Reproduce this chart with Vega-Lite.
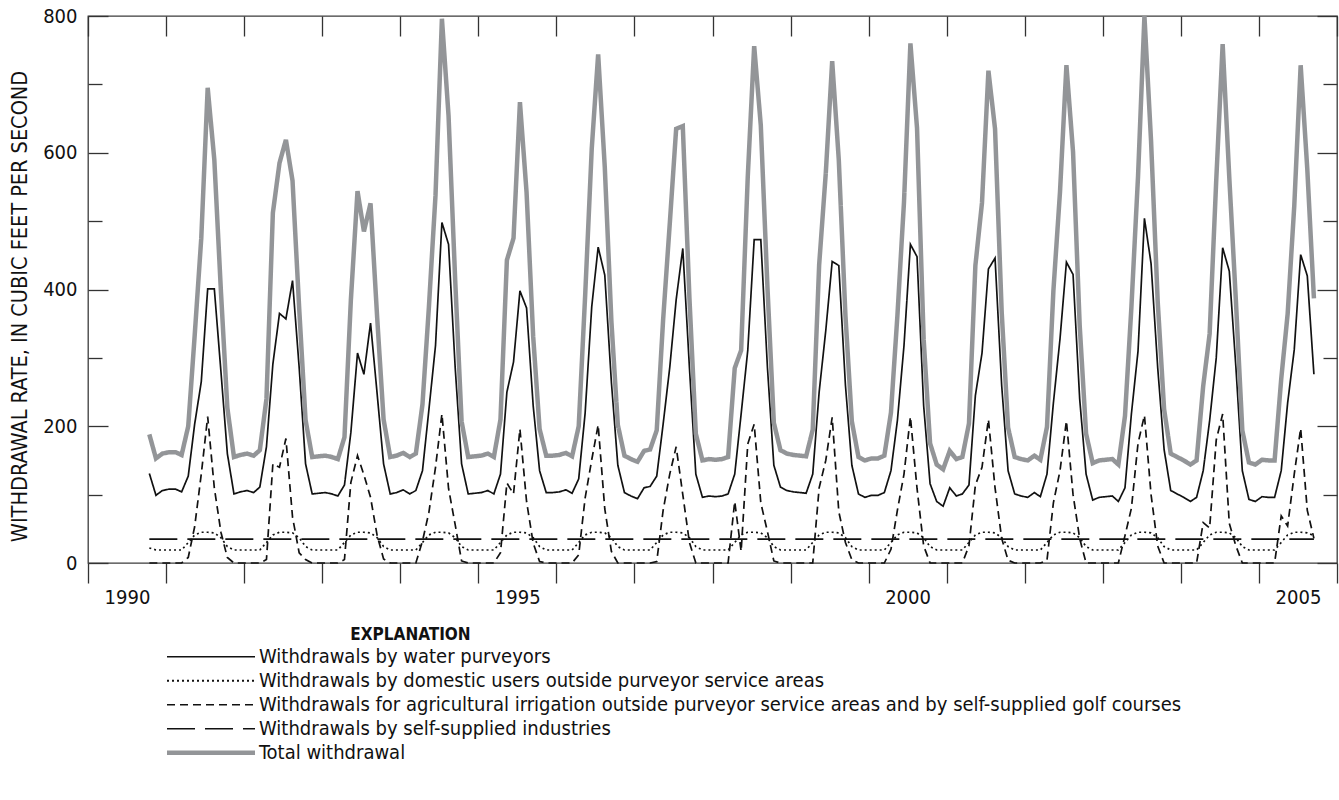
{
  "$schema": "https://vega.github.io/schema/vega-lite/v6.json",
  "width": 1249,
  "height": 547,
  "autosize": {"type": "none"},
  "padding": {"left": 88, "top": 16, "right": 2, "bottom": 237},
  "background": "white",
  "config": {
    "view": {"stroke": "#3c3c3c", "strokeWidth": 1.3},
    "font": "DejaVu Sans Condensed, DejaVu Sans, sans-serif",
    "axis": {"grid": false, "domain": false, "tickColor": "#333333", "tickWidth": 1.3, "labelColor": "#111111", "titleColor": "#111111"},
    "legend": {
      "orient": "none", "legendX": 79, "legendY": 629, "title": null,
      "symbolType": "stroke", "symbolSize": 7744, "clipHeight": 23.5, "rowPadding": 0,
      "labelFontSize": 20, "labelColor": "#111111", "labelOffset": 38, "symbolOffset": 34, "labelLimit": 1200, "padding": 0
    }
  },
  "data": {"values": [
{"date":"1990-10-15","purveyors":131,"domestic":22,"irrigation":0,"industries":35,"total":188},
{"date":"1990-11-15","purveyors":99,"domestic":19,"irrigation":0,"industries":35,"total":153},
{"date":"1990-12-15","purveyors":106,"domestic":19,"irrigation":0,"industries":35,"total":160},
{"date":"1991-01-15","purveyors":108,"domestic":19,"irrigation":0,"industries":35,"total":162},
{"date":"1991-02-15","purveyors":108,"domestic":19,"irrigation":0,"industries":35,"total":162},
{"date":"1991-03-15","purveyors":104,"domestic":19,"irrigation":0,"industries":35,"total":158},
{"date":"1991-04-15","purveyors":127,"domestic":30,"irrigation":8,"industries":35,"total":200},
{"date":"1991-05-15","purveyors":203,"domestic":41,"irrigation":53,"industries":35,"total":332},
{"date":"1991-06-15","purveyors":265,"domestic":45,"irrigation":130,"industries":35,"total":475},
{"date":"1991-07-15","purveyors":401,"domestic":45,"irrigation":214,"industries":35,"total":695},
{"date":"1991-08-15","purveyors":401,"domestic":44,"irrigation":110,"industries":35,"total":590},
{"date":"1991-09-15","purveyors":280,"domestic":37,"irrigation":45,"industries":35,"total":397},
{"date":"1991-10-15","purveyors":160,"domestic":24,"irrigation":8,"industries":35,"total":227},
{"date":"1991-11-15","purveyors":101,"domestic":19,"irrigation":0,"industries":35,"total":155},
{"date":"1991-12-15","purveyors":104,"domestic":19,"irrigation":0,"industries":35,"total":158},
{"date":"1992-01-15","purveyors":106,"domestic":19,"irrigation":0,"industries":35,"total":160},
{"date":"1992-02-15","purveyors":103,"domestic":19,"irrigation":0,"industries":35,"total":157},
{"date":"1992-03-15","purveyors":111,"domestic":19,"irrigation":0,"industries":35,"total":165},
{"date":"1992-04-15","purveyors":170,"domestic":30,"irrigation":5,"industries":35,"total":240},
{"date":"1992-05-15","purveyors":291,"domestic":41,"irrigation":145,"industries":35,"total":512},
{"date":"1992-06-15","purveyors":365,"domestic":45,"irrigation":140,"industries":35,"total":585},
{"date":"1992-07-15","purveyors":357,"domestic":45,"irrigation":182,"industries":35,"total":619},
{"date":"1992-08-15","purveyors":413,"domestic":44,"irrigation":67,"industries":35,"total":559},
{"date":"1992-09-15","purveyors":286,"domestic":37,"irrigation":15,"industries":35,"total":373},
{"date":"1992-10-15","purveyors":145,"domestic":24,"irrigation":5,"industries":35,"total":209},
{"date":"1992-11-15","purveyors":101,"domestic":19,"irrigation":0,"industries":35,"total":155},
{"date":"1992-12-15","purveyors":102,"domestic":19,"irrigation":0,"industries":35,"total":156},
{"date":"1993-01-15","purveyors":103,"domestic":19,"irrigation":0,"industries":35,"total":157},
{"date":"1993-02-15","purveyors":101,"domestic":19,"irrigation":0,"industries":35,"total":155},
{"date":"1993-03-15","purveyors":98,"domestic":19,"irrigation":0,"industries":35,"total":152},
{"date":"1993-04-15","purveyors":114,"domestic":30,"irrigation":5,"industries":35,"total":184},
{"date":"1993-05-15","purveyors":191,"domestic":41,"irrigation":118,"industries":35,"total":385},
{"date":"1993-06-15","purveyors":307,"domestic":45,"irrigation":157,"industries":35,"total":544},
{"date":"1993-07-15","purveyors":276,"domestic":45,"irrigation":129,"industries":35,"total":485},
{"date":"1993-08-15","purveyors":351,"domestic":44,"irrigation":96,"industries":35,"total":526},
{"date":"1993-09-15","purveyors":247,"domestic":37,"irrigation":40,"industries":35,"total":359},
{"date":"1993-10-15","purveyors":145,"domestic":24,"irrigation":6,"industries":35,"total":210},
{"date":"1993-11-15","purveyors":101,"domestic":19,"irrigation":0,"industries":35,"total":155},
{"date":"1993-12-15","purveyors":103,"domestic":19,"irrigation":0,"industries":35,"total":157},
{"date":"1994-01-15","purveyors":107,"domestic":19,"irrigation":0,"industries":35,"total":161},
{"date":"1994-02-15","purveyors":101,"domestic":19,"irrigation":0,"industries":35,"total":155},
{"date":"1994-03-15","purveyors":106,"domestic":19,"irrigation":0,"industries":35,"total":160},
{"date":"1994-04-15","purveyors":135,"domestic":30,"irrigation":32,"industries":35,"total":232},
{"date":"1994-05-15","purveyors":224,"domestic":41,"irrigation":74,"industries":35,"total":374},
{"date":"1994-06-15","purveyors":318,"domestic":45,"irrigation":140,"industries":35,"total":538},
{"date":"1994-07-15","purveyors":498,"domestic":45,"irrigation":218,"industries":35,"total":796},
{"date":"1994-08-15","purveyors":466,"domestic":44,"irrigation":109,"industries":35,"total":654},
{"date":"1994-09-15","purveyors":286,"domestic":37,"irrigation":56,"industries":35,"total":414},
{"date":"1994-10-15","purveyors":145,"domestic":24,"irrigation":3,"industries":35,"total":207},
{"date":"1994-11-15","purveyors":101,"domestic":19,"irrigation":0,"industries":35,"total":155},
{"date":"1994-12-15","purveyors":102,"domestic":19,"irrigation":0,"industries":35,"total":156},
{"date":"1995-01-15","purveyors":103,"domestic":19,"irrigation":0,"industries":35,"total":157},
{"date":"1995-02-15","purveyors":106,"domestic":19,"irrigation":0,"industries":35,"total":160},
{"date":"1995-03-15","purveyors":101,"domestic":19,"irrigation":0,"industries":35,"total":155},
{"date":"1995-04-15","purveyors":130,"domestic":30,"irrigation":15,"industries":35,"total":210},
{"date":"1995-05-15","purveyors":250,"domestic":41,"irrigation":117,"industries":35,"total":443},
{"date":"1995-06-15","purveyors":294,"domestic":45,"irrigation":101,"industries":35,"total":475},
{"date":"1995-07-15","purveyors":398,"domestic":45,"irrigation":196,"industries":35,"total":674},
{"date":"1995-08-15","purveyors":373,"domestic":44,"irrigation":90,"industries":35,"total":542},
{"date":"1995-09-15","purveyors":230,"domestic":37,"irrigation":29,"industries":35,"total":331},
{"date":"1995-10-15","purveyors":135,"domestic":24,"irrigation":2,"industries":35,"total":196},
{"date":"1995-11-15","purveyors":103,"domestic":19,"irrigation":0,"industries":35,"total":157},
{"date":"1995-12-15","purveyors":103,"domestic":19,"irrigation":0,"industries":35,"total":157},
{"date":"1996-01-15","purveyors":104,"domestic":19,"irrigation":0,"industries":35,"total":158},
{"date":"1996-02-15","purveyors":107,"domestic":19,"irrigation":0,"industries":35,"total":161},
{"date":"1996-03-15","purveyors":102,"domestic":19,"irrigation":0,"industries":35,"total":156},
{"date":"1996-04-15","purveyors":123,"domestic":30,"irrigation":12,"industries":35,"total":200},
{"date":"1996-05-15","purveyors":219,"domestic":41,"irrigation":95,"industries":35,"total":390},
{"date":"1996-06-15","purveyors":375,"domestic":45,"irrigation":151,"industries":35,"total":606},
{"date":"1996-07-15","purveyors":462,"domestic":45,"irrigation":202,"industries":35,"total":744},
{"date":"1996-08-15","purveyors":421,"domestic":44,"irrigation":79,"industries":35,"total":579},
{"date":"1996-09-15","purveyors":264,"domestic":37,"irrigation":17,"industries":35,"total":353},
{"date":"1996-10-15","purveyors":143,"domestic":24,"irrigation":0,"industries":35,"total":202},
{"date":"1996-11-15","purveyors":103,"domestic":19,"irrigation":0,"industries":35,"total":157},
{"date":"1996-12-15","purveyors":98,"domestic":19,"irrigation":0,"industries":35,"total":152},
{"date":"1997-01-15","purveyors":94,"domestic":19,"irrigation":0,"industries":35,"total":148},
{"date":"1997-02-15","purveyors":110,"domestic":19,"irrigation":0,"industries":35,"total":164},
{"date":"1997-03-15","purveyors":112,"domestic":19,"irrigation":0,"industries":35,"total":166},
{"date":"1997-04-15","purveyors":127,"domestic":30,"irrigation":2,"industries":35,"total":194},
{"date":"1997-05-15","purveyors":203,"domestic":41,"irrigation":77,"industries":35,"total":356},
{"date":"1997-06-15","purveyors":286,"domestic":45,"irrigation":130,"industries":35,"total":496},
{"date":"1997-07-15","purveyors":385,"domestic":45,"irrigation":170,"industries":35,"total":635},
{"date":"1997-08-15","purveyors":460,"domestic":44,"irrigation":100,"industries":35,"total":639},
{"date":"1997-09-15","purveyors":286,"domestic":37,"irrigation":30,"industries":35,"total":388},
{"date":"1997-10-15","purveyors":130,"domestic":24,"irrigation":0,"industries":35,"total":189},
{"date":"1997-11-15","purveyors":96,"domestic":19,"irrigation":0,"industries":35,"total":150},
{"date":"1997-12-15","purveyors":98,"domestic":19,"irrigation":0,"industries":35,"total":152},
{"date":"1998-01-15","purveyors":97,"domestic":19,"irrigation":0,"industries":35,"total":151},
{"date":"1998-02-15","purveyors":98,"domestic":19,"irrigation":0,"industries":35,"total":152},
{"date":"1998-03-15","purveyors":101,"domestic":19,"irrigation":0,"industries":35,"total":155},
{"date":"1998-04-15","purveyors":130,"domestic":30,"irrigation":90,"industries":35,"total":285},
{"date":"1998-05-15","purveyors":218,"domestic":41,"irrigation":17,"industries":35,"total":311},
{"date":"1998-06-15","purveyors":311,"domestic":45,"irrigation":174,"industries":35,"total":565},
{"date":"1998-07-15","purveyors":473,"domestic":45,"irrigation":203,"industries":35,"total":756},
{"date":"1998-08-15","purveyors":473,"domestic":44,"irrigation":88,"industries":35,"total":640},
{"date":"1998-09-15","purveyors":286,"domestic":37,"irrigation":46,"industries":35,"total":404},
{"date":"1998-10-15","purveyors":143,"domestic":24,"irrigation":3,"industries":35,"total":205},
{"date":"1998-11-15","purveyors":111,"domestic":19,"irrigation":0,"industries":35,"total":165},
{"date":"1998-12-15","purveyors":106,"domestic":19,"irrigation":0,"industries":35,"total":160},
{"date":"1999-01-15","purveyors":104,"domestic":19,"irrigation":0,"industries":35,"total":158},
{"date":"1999-02-15","purveyors":103,"domestic":19,"irrigation":0,"industries":35,"total":157},
{"date":"1999-03-15","purveyors":102,"domestic":19,"irrigation":0,"industries":35,"total":156},
{"date":"1999-04-15","purveyors":130,"domestic":30,"irrigation":0,"industries":35,"total":195},
{"date":"1999-05-15","purveyors":250,"domestic":41,"irrigation":110,"industries":35,"total":436},
{"date":"1999-06-15","purveyors":340,"domestic":45,"irrigation":150,"industries":35,"total":570},
{"date":"1999-07-15","purveyors":441,"domestic":45,"irrigation":213,"industries":35,"total":734},
{"date":"1999-08-15","purveyors":435,"domestic":44,"irrigation":75,"industries":35,"total":589},
{"date":"1999-09-15","purveyors":260,"domestic":37,"irrigation":30,"industries":35,"total":362},
{"date":"1999-10-15","purveyors":143,"domestic":24,"irrigation":5,"industries":35,"total":207},
{"date":"1999-11-15","purveyors":101,"domestic":19,"irrigation":0,"industries":35,"total":155},
{"date":"1999-12-15","purveyors":96,"domestic":19,"irrigation":0,"industries":35,"total":150},
{"date":"2000-01-15","purveyors":99,"domestic":19,"irrigation":0,"industries":35,"total":153},
{"date":"2000-02-15","purveyors":99,"domestic":19,"irrigation":0,"industries":35,"total":153},
{"date":"2000-03-15","purveyors":103,"domestic":19,"irrigation":0,"industries":35,"total":157},
{"date":"2000-04-15","purveyors":135,"domestic":30,"irrigation":20,"industries":35,"total":220},
{"date":"2000-05-15","purveyors":208,"domestic":41,"irrigation":77,"industries":35,"total":361},
{"date":"2000-06-15","purveyors":318,"domestic":45,"irrigation":130,"industries":35,"total":528},
{"date":"2000-07-15","purveyors":466,"domestic":45,"irrigation":214,"industries":35,"total":760},
{"date":"2000-08-15","purveyors":448,"domestic":44,"irrigation":109,"industries":35,"total":636},
{"date":"2000-09-15","purveyors":230,"domestic":37,"irrigation":25,"industries":35,"total":327},
{"date":"2000-10-15","purveyors":116,"domestic":24,"irrigation":0,"industries":35,"total":175},
{"date":"2000-11-15","purveyors":90,"domestic":19,"irrigation":0,"industries":35,"total":144},
{"date":"2000-12-15","purveyors":83,"domestic":19,"irrigation":0,"industries":35,"total":137},
{"date":"2001-01-15","purveyors":110,"domestic":19,"irrigation":0,"industries":35,"total":164},
{"date":"2001-02-15","purveyors":98,"domestic":19,"irrigation":0,"industries":35,"total":152},
{"date":"2001-03-15","purveyors":101,"domestic":19,"irrigation":0,"industries":35,"total":155},
{"date":"2001-04-15","purveyors":114,"domestic":30,"irrigation":25,"industries":35,"total":204},
{"date":"2001-05-15","purveyors":245,"domestic":41,"irrigation":114,"industries":35,"total":435},
{"date":"2001-06-15","purveyors":307,"domestic":45,"irrigation":140,"industries":35,"total":527},
{"date":"2001-07-15","purveyors":430,"domestic":45,"irrigation":210,"industries":35,"total":720},
{"date":"2001-08-15","purveyors":446,"domestic":44,"irrigation":110,"industries":35,"total":635},
{"date":"2001-09-15","purveyors":260,"domestic":37,"irrigation":36,"industries":35,"total":368},
{"date":"2001-10-15","purveyors":135,"domestic":24,"irrigation":4,"industries":35,"total":198},
{"date":"2001-11-15","purveyors":101,"domestic":19,"irrigation":0,"industries":35,"total":155},
{"date":"2001-12-15","purveyors":98,"domestic":19,"irrigation":0,"industries":35,"total":152},
{"date":"2002-01-15","purveyors":96,"domestic":19,"irrigation":0,"industries":35,"total":150},
{"date":"2002-02-15","purveyors":103,"domestic":19,"irrigation":0,"industries":35,"total":157},
{"date":"2002-03-15","purveyors":97,"domestic":19,"irrigation":0,"industries":35,"total":151},
{"date":"2002-04-15","purveyors":130,"domestic":30,"irrigation":4,"industries":35,"total":199},
{"date":"2002-05-15","purveyors":234,"domestic":41,"irrigation":88,"industries":35,"total":398},
{"date":"2002-06-15","purveyors":328,"domestic":45,"irrigation":135,"industries":35,"total":543},
{"date":"2002-07-15","purveyors":440,"domestic":45,"irrigation":208,"industries":35,"total":728},
{"date":"2002-08-15","purveyors":422,"domestic":44,"irrigation":100,"industries":35,"total":601},
{"date":"2002-09-15","purveyors":240,"domestic":37,"irrigation":36,"industries":35,"total":348},
{"date":"2002-10-15","purveyors":130,"domestic":24,"irrigation":0,"industries":35,"total":189},
{"date":"2002-11-15","purveyors":92,"domestic":19,"irrigation":0,"industries":35,"total":146},
{"date":"2002-12-15","purveyors":96,"domestic":19,"irrigation":0,"industries":35,"total":150},
{"date":"2003-01-15","purveyors":97,"domestic":19,"irrigation":0,"industries":35,"total":151},
{"date":"2003-02-15","purveyors":98,"domestic":19,"irrigation":0,"industries":35,"total":152},
{"date":"2003-03-15","purveyors":90,"domestic":19,"irrigation":0,"industries":35,"total":144},
{"date":"2003-04-15","purveyors":110,"domestic":30,"irrigation":40,"industries":35,"total":215},
{"date":"2003-05-15","purveyors":218,"domestic":41,"irrigation":80,"industries":35,"total":374},
{"date":"2003-06-15","purveyors":310,"domestic":45,"irrigation":175,"industries":35,"total":565},
{"date":"2003-07-15","purveyors":504,"domestic":45,"irrigation":216,"industries":35,"total":800},
{"date":"2003-08-15","purveyors":438,"domestic":44,"irrigation":100,"industries":35,"total":617},
{"date":"2003-09-15","purveyors":286,"domestic":37,"irrigation":25,"industries":35,"total":383},
{"date":"2003-10-15","purveyors":166,"domestic":24,"irrigation":0,"industries":35,"total":225},
{"date":"2003-11-15","purveyors":106,"domestic":19,"irrigation":0,"industries":35,"total":160},
{"date":"2003-12-15","purveyors":101,"domestic":19,"irrigation":0,"industries":35,"total":155},
{"date":"2004-01-15","purveyors":96,"domestic":19,"irrigation":0,"industries":35,"total":150},
{"date":"2004-02-15","purveyors":90,"domestic":19,"irrigation":0,"industries":35,"total":144},
{"date":"2004-03-15","purveyors":96,"domestic":19,"irrigation":0,"industries":35,"total":150},
{"date":"2004-04-15","purveyors":135,"domestic":30,"irrigation":59,"industries":35,"total":259},
{"date":"2004-05-15","purveyors":208,"domestic":41,"irrigation":51,"industries":35,"total":335},
{"date":"2004-06-15","purveyors":300,"domestic":45,"irrigation":180,"industries":35,"total":560},
{"date":"2004-07-15","purveyors":461,"domestic":45,"irrigation":218,"industries":35,"total":759},
{"date":"2004-08-15","purveyors":427,"domestic":44,"irrigation":58,"industries":35,"total":564},
{"date":"2004-09-15","purveyors":286,"domestic":37,"irrigation":25,"industries":35,"total":383},
{"date":"2004-10-15","purveyors":135,"domestic":24,"irrigation":0,"industries":35,"total":194},
{"date":"2004-11-15","purveyors":93,"domestic":19,"irrigation":0,"industries":35,"total":147},
{"date":"2004-12-15","purveyors":90,"domestic":19,"irrigation":0,"industries":35,"total":144},
{"date":"2005-01-15","purveyors":97,"domestic":19,"irrigation":0,"industries":35,"total":151},
{"date":"2005-02-15","purveyors":96,"domestic":19,"irrigation":0,"industries":35,"total":150},
{"date":"2005-03-15","purveyors":96,"domestic":19,"irrigation":0,"industries":35,"total":150},
{"date":"2005-04-15","purveyors":135,"domestic":30,"irrigation":69,"industries":35,"total":269},
{"date":"2005-05-15","purveyors":234,"domestic":41,"irrigation":54,"industries":35,"total":364},
{"date":"2005-06-15","purveyors":312,"domestic":45,"irrigation":130,"industries":35,"total":522},
{"date":"2005-07-15","purveyors":451,"domestic":45,"irrigation":197,"industries":35,"total":728},
{"date":"2005-08-15","purveyors":420,"domestic":44,"irrigation":77,"industries":35,"total":576},
{"date":"2005-09-15","purveyors":276,"domestic":40,"irrigation":36,"industries":35,"total":387}
  ]},
  "transform": [
    {"fold": ["purveyors", "domestic", "irrigation", "industries", "total"], "as": ["series", "value"]}
  ],
  "layer": [
    {
      "mark": {"type": "line", "strokeCap": "butt", "strokeJoin": "miter"},
      "encoding": {
        "x": {
          "field": "date", "type": "temporal",
          "scale": {"domain": [{"year": 1990, "month": 1, "date": 1}, {"year": 2006, "month": 1, "date": 1}]},
          "axis": {
            "orient": "bottom",
            "tickCount": {"interval": "year", "step": 1},
            "labelExpr": "year(datum.value) % 5 == 0 ? timeFormat(datum.value, '%Y') : ''",
            "labelOffset": 39, "labelFlush": false, "labelOverlap": false, "labelBound": false,
            "tickSize": 20, "labelPadding": 4, "labelFontSize": 20, "labelAngle": 0,
            "title": "EXPLANATION", "titleFontWeight": "bold", "titleFontSize": 17,
            "titleX": 322, "titleY": 71, "titleAlign": "center", "titleBaseline": "middle"
          }
        },
        "y": {
          "field": "value", "type": "quantitative",
          "scale": {"domain": [0, 800], "nice": false},
          "axis": {
            "orient": "left",
            "values": [0, 100, 200, 300, 400, 500, 600, 700, 800],
            "labelExpr": "datum.value % 200 == 0 ? datum.value : ''",
            "tickSize": {"condition": {"test": "datum.value % 200 == 0", "value": -20}, "value": -14},
            "labelPadding": 31, "labelFontSize": 20,
            "title": "WITHDRAWAL RATE, IN CUBIC FEET PER SECOND",
            "titleFontSize": 21.5, "titleFontWeight": "normal",
            "titleX": -68, "titleY": 290, "titleAngle": -90, "titleAlign": "center", "titleBaseline": "middle"
          }
        },
        "color": {
          "field": "series", "type": "nominal",
          "scale": {"domain": ["purveyors", "domestic", "irrigation", "industries", "total"], "range": ["#111111", "#111111", "#111111", "#111111", "#939598"]},
          "legend": {
            "symbolSize": 7744,
            "symbolStrokeWidth": {"expr": "datum.value == 'total' ? 4.5 : datum.value == 'domestic' ? 2.2 : 1.6"},
            "labelExpr": "datum.label == 'purveyors' ? 'Withdrawals by water purveyors' : datum.label == 'domestic' ? 'Withdrawals by domestic users outside purveyor service areas' : datum.label == 'irrigation' ? 'Withdrawals for agricultural irrigation outside purveyor service areas and by self-supplied golf courses' : datum.label == 'industries' ? 'Withdrawals by self-supplied industries' : 'Total withdrawal'"
          }
        },
        "strokeDash": {
          "field": "series", "type": "nominal",
          "scale": {"domain": ["purveyors", "domestic", "irrigation", "industries", "total"], "range": [[1, 0], [2, 3], [8, 5], [28, 10], [1, 0]]}
        },
        "size": {"condition": {"test": "datum.series == 'total'", "value": 4.5}, "value": 1.7}
      }
    },
    {
      "mark": {"type": "line", "opacity": 0},
      "encoding": {
        "x": {
          "field": "date", "type": "temporal",
          "scale": {"domain": [{"year": 1990, "month": 1, "date": 1}, {"year": 2006, "month": 1, "date": 1}]},
          "axis": {"orient": "top", "tickCount": {"interval": "year", "step": 1}, "labels": false, "tickSize": -20, "title": null}
        },
        "y": {
          "field": "value", "type": "quantitative",
          "scale": {"domain": [0, 800], "nice": false},
          "axis": {
            "orient": "right", "values": [0, 100, 200, 300, 400, 500, 600, 700, 800], "labels": false,
            "tickSize": {"condition": {"test": "datum.value % 200 == 0", "value": -20}, "value": -14},
            "title": null
          }
        },
        "detail": {"field": "series", "type": "nominal"}
      }
    }
  ],
  "resolve": {"axis": {"x": "independent", "y": "independent"}}
}
